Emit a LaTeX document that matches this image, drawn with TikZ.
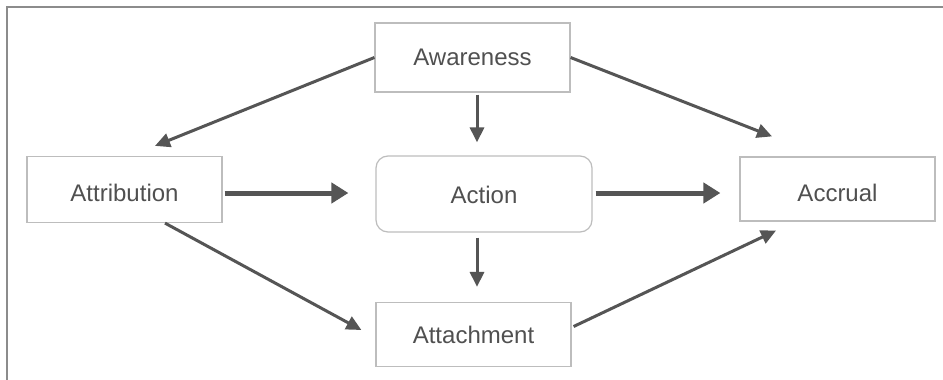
\documentclass[tikz,border=0pt]{standalone}
\usepackage{fontspec}
\setmainfont{Liberation Sans}
\usetikzlibrary{arrows.meta,calc}
\definecolor{boxline}{HTML}{BDBDBD}
\definecolor{arr}{HTML}{555555}
\definecolor{txt}{HTML}{505050}
\definecolor{frame}{HTML}{8C8C8C}
\tikzset{
  box/.style={draw=boxline, line width=1.2pt, minimum width=195pt, minimum height=66pt,
    inner sep=0pt, text=txt, font=\fontsize{24}{28}\selectfont},
  low/.style={text height=24pt, text depth=0pt},
  thin/.style={draw=arr, line width=3pt, -{Triangle[length=15pt,width=14pt]}},
  thick/.style={draw=arr, line width=5pt, -{Triangle[length=17pt,width=20pt]}}
}
\begin{document}
\begin{tikzpicture}[x=1pt,y=-1pt]
\useasboundingbox (0,0) rectangle (943,380);
\fill[white] (0,0) rectangle (943,380);
\draw[frame, line width=1.8pt] (7,380) -- (7,7) -- (943,7);
\node[box, minimum height=69pt] (aw) at (472.5,57.5) {Awareness};
\node[box, low] (at) at (124.5,189.5) {Attribution};
\node[box, rounded corners=12pt, minimum width=216pt, minimum height=76pt, text height=19pt, text depth=0pt] (ac) at (484,194) {Action};
\node[box, low, minimum height=64pt] (ar) at (837.5,189) {Accrual};
\node[box, minimum height=64pt] (ta) at (473.5,334.5) {Attachment};
% connectors
\draw[thin] (aw.west) -- ($(at.north)+(30.5,-10)$);
\draw[thin] ($(aw.south)+(4.5,2)$) -- ($(ac.north)+(-7,-13)$);
\draw[thin] (aw.east) -- ($(ar.north)+(-65.5,-20)$);
\draw[thick] ($(at.east)+(2,3.5)$) -- ($(ac.west)+(-27,-1)$);
\draw[thick] ($(ac.east)+(3,-1)$) -- ($(ar.west)+(-19,4)$);
\draw[thin] ($(ac.south)+(-7,5)$) -- ($(ta.north)+(3.5,-15)$);
\draw[thin] ($(at.south)+(40.5,0)$) -- ($(ta.west)+(-14,-4.5)$);
\draw[thin] ($(ta.east)+(2,-8)$) -- ($(ar.south)+(-61.5,9)$);
\end{tikzpicture}
\end{document}
